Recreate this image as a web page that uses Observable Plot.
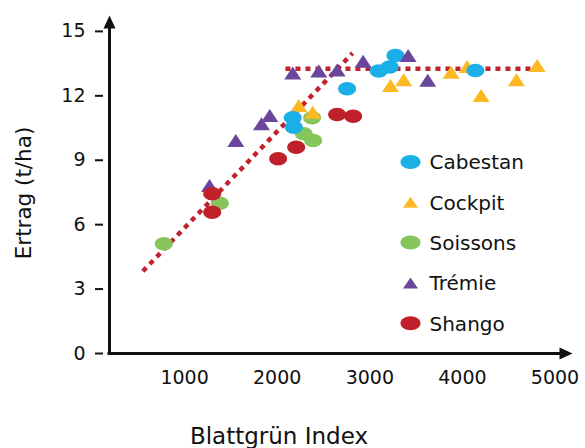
<!DOCTYPE html>
<html><head><meta charset="utf-8">
<style>body{margin:0;background:#fff}</style>
<script src="https://cdn.jsdelivr.net/npm/d3@7"></script>
<script src="https://cdn.jsdelivr.net/npm/@observablehq/plot@0.6"></script>
</head><body><div id="chart"></div>
<script>
// ---- data ----
const seriesNames = ["Cabestan", "Cockpit", "Soissons", "Trémie", "Shango"];
const drawOrder = ["Soissons", "Cockpit", "Cabestan", "Trémie", "Shango"];
const seriesColors = ["#1aafe6", "#fdb924", "#85c55b", "#6a469c", "#c0202a"];
const seriesShapes = ["ellipse", "triangle", "ellipse", "triangle", "ellipse"];

const cabestanX = [2168, 2179, 2755, 3096, 3215, 3277, 4140];
const cabestanY = [10.98, 10.54, 12.33, 13.15, 13.34, 13.88, 13.18];
const cockpitX = [2233, 2384, 3223, 3366, 3878, 4051, 4202, 4583, 4807];
const cockpitY = [11.55, 11.24, 12.48, 12.75, 13.10, 13.37, 12.02, 12.75, 13.41];
const soissonsX = [775, 1380, 2287, 2388, 2377];
const soissonsY = [5.11, 7.0, 10.23, 9.92, 10.98];
const tremieX = [1269, 1553, 1830, 1920, 2168, 2449, 2647, 2928, 3414, 3626];
const tremieY = [7.82, 9.92, 10.7, 11.08, 13.06, 13.15, 13.2, 13.61, 13.88, 12.72];
const shangoX = [1298, 1298, 2010, 2205, 2647, 2820];
const shangoY = [7.44, 6.58, 9.07, 9.61, 11.13, 11.05];

const trendX = [549, 2814];
const trendY = [3.83, 13.99];
const plateauX = [2089, 4861];
const plateauY = [13.26, 13.26];

const xTicks = [1000, 2000, 3000, 4000, 5000];
const yTicks = [0, 3, 6, 9, 12, 15];
const xDomain = [189, 5189];
const yDomain = [0, 15.74];
const xTitle = "Blattgrün Index";
const yTitle = "Ertrag (t/ha)";

// ---- helpers ----
const pts = (xs, ys) => xs.map((x, i) => ({x, y: ys[i]}));
const seriesData = {
  "Cabestan": pts(cabestanX, cabestanY),
  "Cockpit": pts(cockpitX, cockpitY),
  "Soissons": pts(soissonsX, soissonsY),
  "Trémie": pts(tremieX, tremieY),
  "Shango": pts(shangoX, shangoY)
};
function ellipse(w, h) {
  return {draw(ctx) {
    const a = w / 2, b = h / 2, k = 0.5523;
    ctx.moveTo(a, 0);
    ctx.bezierCurveTo(a, k * b, k * a, b, 0, b);
    ctx.bezierCurveTo(-k * a, b, -a, k * b, -a, 0);
    ctx.bezierCurveTo(-a, -k * b, -k * a, -b, 0, -b);
    ctx.bezierCurveTo(k * a, -b, a, -k * b, a, 0);
    ctx.closePath();
  }};
}
function triangle(w, h) {
  return {draw(ctx) {
    ctx.moveTo(0, -h / 2); ctx.lineTo(w / 2, h / 2); ctx.lineTo(-w / 2, h / 2); ctx.closePath();
  }};
}
function arrowHead(w, h) {
  return {draw(ctx) {
    ctx.moveTo(0, 0); ctx.lineTo(w / 2, h); ctx.lineTo(-w / 2, h); ctx.closePath();
  }};
}
const plotShape = s => s === "ellipse" ? ellipse(18, 13.5) : triangle(17, 13);
const legendShape = s => s === "ellipse" ? ellipse(20, 14) : triangle(15, 11);
const lineColor = "#c1222b";
const ink = "#111";
const dotted = {x: "x", y: "y", stroke: lineColor, strokeWidth: 4.5, strokeDasharray: "5,5", strokeLinecap: "butt", strokeLinejoin: "miter"};

const marks = [
  Plot.line(pts(trendX, trendY), dotted),
  Plot.line(pts(plateauX, plateauY), dotted),
  ...drawOrder.map(name => {
    const i = seriesNames.indexOf(name);
    return Plot.dot(seriesData[name], {x: "x", y: "y", symbol: plotShape(seriesShapes[i]), fill: seriesColors[i], r: 5});
  }),
  // axes lines with arrows
  Plot.ruleX([xDomain[0]], {y1: yDomain[0], y2: yDomain[1] - 0.5, stroke: ink, strokeWidth: 3, strokeLinecap: "square"}),
  Plot.ruleY([yDomain[0]], {x1: xDomain[0], x2: xDomain[1] - 100, stroke: ink, strokeWidth: 3, strokeLinecap: "square"}),
  Plot.dot([{x: xDomain[0], y: yDomain[1]}], {x: "x", y: "y", symbol: arrowHead(12, 13), fill: ink, r: 5}),
  Plot.dot([{x: xDomain[1], y: yDomain[0]}], {x: "x", y: "y", symbol: arrowHead(12, 13), fill: ink, r: 5, rotate: 90}),
  Plot.axisY(yTicks, {tickSize: 8, dx: -6, tickPadding: 10, fontSize: 19, strokeWidth: 2, label: null, tickFormat: d => String(d)}),
  Plot.axisX(xTicks, {tickSize: 0, tickPadding: 17, fontSize: 19, label: null, tickFormat: d => String(d)}),
  Plot.text([xTitle], {frameAnchor: "bottom", textAnchor: "middle", lineAnchor: "middle", dx: -62, dy: 83.5, fontSize: 23, fill: ink}),
  Plot.text([yTitle], {frameAnchor: "left", textAnchor: "middle", lineAnchor: "middle", rotate: -90, dx: -85, dy: 8.5, fontSize: 21.5, fill: ink}),
  // legend
  ...seriesNames.flatMap((name, i) => [
    Plot.dot([name], {x: null, y: null, frameAnchor: "top-left", dx: 301, dy: 146.5 + i * 40.3, symbol: legendShape(seriesShapes[i]), fill: seriesColors[i], r: 5}),
    Plot.text([name], {frameAnchor: "top-left", textAnchor: "start", lineAnchor: "middle", dx: 320, dy: 147.5 + i * 40.3, fontSize: 20, fill: ink})
  ])
];

const chart = Plot.plot({
  width: 585,
  height: 448,
  marginLeft: 109,
  marginRight: 13,
  marginTop: 15,
  marginBottom: 95,
  style: {fontFamily: "'DejaVu Sans', sans-serif", color: ink, background: "#fff"},
  x: {domain: xDomain, axis: null},
  y: {domain: yDomain, axis: null},
  marks
});
document.getElementById("chart").append(chart);
</script>
</body></html>
